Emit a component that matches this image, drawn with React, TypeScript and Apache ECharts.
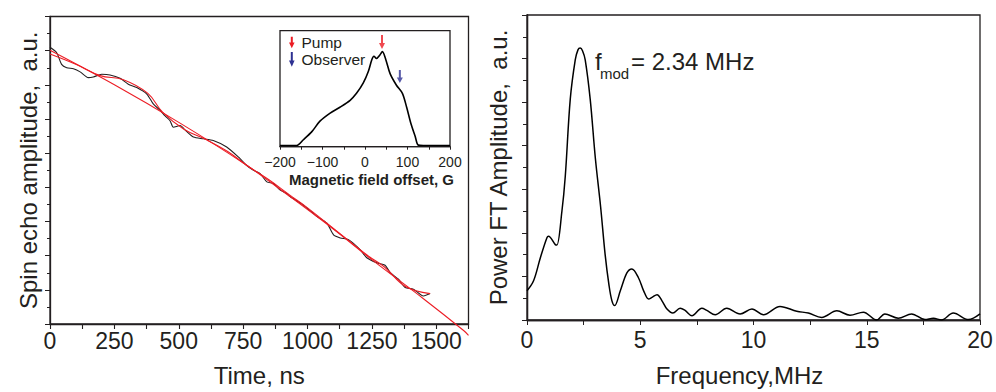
import React, { useEffect, useRef } from "react";
import * as echarts from "echarts";

// ---- Left panel: spin echo decay (Time ns, amplitude a.u.) ----
const echoTime = [0, 26, 45, 65, 91, 117, 149, 168, 201, 233, 272, 304, 337, 376, 401, 427, 447, 466, 479, 505, 528, 557, 596, 634, 686, 738, 764, 790, 816, 842, 868, 894, 920, 932, 984, 1036, 1075, 1101, 1127, 1159, 1204, 1230, 1269, 1301, 1321, 1353, 1379, 1411, 1450, 1476];
const echoAmp = [8.10, 7.94, 7.60, 7.50, 7.47, 7.38, 7.21, 7.23, 7.31, 7.29, 7.19, 7.02, 6.92, 6.73, 6.44, 6.26, 6.09, 5.95, 5.76, 5.81, 5.65, 5.47, 5.42, 5.37, 5.18, 4.84, 4.64, 4.50, 4.40, 4.16, 4.11, 3.92, 3.82, 3.73, 3.48, 3.15, 2.95, 2.61, 2.52, 2.47, 2.18, 1.94, 1.79, 1.72, 1.50, 1.31, 1.07, 1.02, 0.82, 0.89];

// smooth decay fit (extends past the data)
const fitTime = [0, 250, 505, 755, 932, 1100, 1257, 1450, 1606, 1625];
const fitAmp = [8.01, 7.0, 5.88, 4.69, 3.73, 2.78, 1.84, 0.74, -0.19, -0.33];

// modulated fit
const modTime = [0, 100, 195, 285, 380, 437, 520, 600, 690, 765, 850, 930, 1000, 1080, 1160, 1240, 1300, 1380, 1476];
const modAmp = [7.90, 7.60, 7.27, 7.15, 6.75, 6.20, 5.70, 5.42, 5.05, 4.64, 4.22, 3.78, 3.40, 2.92, 2.44, 1.97, 1.66, 1.10, 0.89];

const timeTicks = [0, 250, 500, 750, 1000, 1250, 1500];

// ---- Inset: EPR spectrum ----
const fieldOffset = [-200, -161, -145, -125, -106, -82, -59, -35, -20, -4, 8, 16, 21, 27, 35, 41, 49, 59, 74, 88, 98, 108, 118, 125, 137, 200];
const fieldSignal = [0.01, 0.01, 0.06, 0.13, 0.22, 0.29, 0.34, 0.40, 0.46, 0.55, 0.65, 0.75, 0.78, 0.76, 0.79, 0.82, 0.75, 0.63, 0.53, 0.46, 0.34, 0.20, 0.09, 0.015, 0.01, 0.01];
const pumpArrow = [40, 0.903];
const observerArrow = [82, 0.605];
const legendNames = ["Pump", "Observer"];

// ---- Right panel: power FT ----
const freq = [0, 0.29, 0.59, 0.88, 0.95, 1.25, 1.32, 1.54, 1.69, 1.91, 2.13, 2.25, 2.35, 2.45, 2.57, 2.79, 3.02, 3.25, 3.45, 3.62, 3.75, 3.87, 4.12, 4.41, 4.63, 4.92, 5.15, 5.37, 5.52, 5.74, 5.96, 6.18, 6.44, 6.76, 6.98, 7.28, 7.72, 7.94, 8.31, 8.82, 9.41, 9.93, 10.44, 11.17, 11.91, 12.42, 13.01, 13.68, 14.26, 14.85, 15.44, 15.8, 16.39, 16.98, 17.57, 17.94, 18.3, 18.82, 19.49, 20];
const power = [0.67, 0.90, 1.43, 1.89, 1.92, 1.73, 1.72, 2.49, 3.3, 5.07, 5.97, 6.2, 6.24, 6.18, 5.97, 5.07, 3.7, 2.6, 1.50, 0.8, 0.44, 0.33, 0.67, 1.08, 1.17, 0.97, 0.67, 0.48, 0.52, 0.58, 0.44, 0.25, 0.16, 0.27, 0.22, 0.10, 0.27, 0.22, 0.12, 0.27, 0.14, 0.25, 0.12, 0.31, 0.20, 0.16, 0.06, 0.21, 0.11, 0.18, 0.0, 0.14, 0.04, 0.14, 0.01, 0.04, 0.0, 0.16, 0.01, 0.14];

const FONT = '"Liberation Sans", Arial, Helvetica, sans-serif';
const INK = "#231f20";
const RED = "#ec1c24";
const BLUE = "#2e3192";
const ARROW = "path://M2,0 L4,0 L4,8 L6,8 L3,14 L0,8 L2,8 Z";

const zip = (a: number[], b: number[]) => a.map((v, i) => [v, b[i]]);

export default function App() {
  const ref = useRef<HTMLDivElement>(null);
  useEffect(() => {
    if (!ref.current) return;
    const chart = echarts.init(ref.current, undefined, { renderer: "svg" });
    const axisLine = { show: true, lineStyle: { color: INK, width: 1.3 } };
    const option: any = {
      animation: false,
      backgroundColor: "#fff",
      textStyle: { fontFamily: FONT, color: INK },
      grid: [
        { left: 50, top: 16.5, width: 418.5, height: 310.2, show: true, borderColor: INK, borderWidth: 1.3, backgroundColor: "transparent" },
        { left: 280, top: 30.7, width: 170, height: 116, show: true, borderColor: INK, borderWidth: 1.3, backgroundColor: "#fff", z: 5 },
        { left: 527, top: 15, width: 453, height: 307.7, show: true, borderColor: INK, borderWidth: 1.3 },
      ],
      xAxis: [
        {
          gridIndex: 0, type: "value", min: 0, max: 1625, interval: 125,
          axisLine, splitLine: { show: false },
          axisTick: { show: true, length: 5, lineStyle: { color: INK, width: 1.1 } },
          axisLabel: {
            fontSize: 23, color: INK, fontFamily: FONT, margin: 5,
            formatter: (v: number) => (timeTicks.indexOf(v) >= 0 ? String(v) : ""),
          },
          name: "Time, ns", nameLocation: "middle", nameGap: 39,
          nameTextStyle: { fontSize: 24, color: INK, fontFamily: FONT },
        },
        {
          gridIndex: 1, type: "value", min: -200, max: 200, interval: 100,
          axisLine, splitLine: { show: false },
          axisTick: { show: true, length: 3, lineStyle: { color: INK } },
          minorTick: { show: true, splitNumber: 2, length: 3, lineStyle: { color: INK } },
          axisLabel: { fontSize: 14, color: INK, fontFamily: FONT, margin: 8, formatter: (v: number) => (v < 0 ? "\u2212" + Math.abs(v) : String(v)) },
          name: "Magnetic field offset, G", nameLocation: "middle", nameGap: 25,
          nameTextStyle: { fontSize: 15, fontWeight: "bold", color: INK, fontFamily: FONT, padding: [0, 0, 0, 13] },
        },
        {
          gridIndex: 2, type: "value", min: 0, max: 20, interval: 5,
          axisLine, splitLine: { show: false },
          axisTick: { show: true, length: 4, lineStyle: { color: INK } },
          minorTick: { show: true, splitNumber: 2, length: 4, lineStyle: { color: INK } },
          axisLabel: { fontSize: 23, color: INK, fontFamily: FONT, margin: 8 },
          name: "Frequency,MHz", nameLocation: "middle", nameGap: 43,
          nameTextStyle: { fontSize: 24, color: INK, fontFamily: FONT, padding: [0, 28, 0, 0] },
        },
        {
          gridIndex: 2, type: "value", min: 0, max: 20, interval: 5, position: "top",
          axisLine, splitLine: { show: false },
          axisTick: { show: true, inside: true, length: 5, lineStyle: { color: INK } },
          minorTick: { show: true, splitNumber: 2, length: 5, lineStyle: { color: INK } },
          axisLabel: { show: false },
        },
      ],
      yAxis: [
        {
          gridIndex: 0, type: "value", min: 0, max: 9, interval: 1,
          axisLine, splitLine: { show: false },
          axisTick: { show: true, length: 5, lineStyle: { color: INK } },
          minorTick: { show: true, splitNumber: 2, length: 3, lineStyle: { color: INK } },
          axisLabel: { show: false },
          name: "Spin echo amplitude,  a.u.", nameLocation: "middle", nameGap: 10,
          nameTextStyle: { fontSize: 24, color: INK, fontFamily: FONT },
        },
        {
          gridIndex: 1, type: "value", min: 0, max: 1, interval: 0.05,
          axisLine, splitLine: { show: false },
          axisTick: { show: true, length: 3, lineStyle: { color: INK } },
          axisLabel: { show: false },
        },
        {
          gridIndex: 2, type: "value", min: 0, max: 7, interval: 1,
          axisLine, splitLine: { show: false },
          axisTick: { show: true, length: 5, lineStyle: { color: INK } },
          minorTick: { show: true, splitNumber: 2, length: 4, lineStyle: { color: INK } },
          axisLabel: { show: false },
          name: "Power FT Amplitude,  a.u.", nameLocation: "middle", nameGap: 17,
          nameTextStyle: { fontSize: 24, color: INK, fontFamily: FONT },
        },
        {
          gridIndex: 2, type: "value", min: 0, max: 7, interval: 1, position: "right",
          axisLine, splitLine: { show: false },
          axisTick: { show: true, inside: true, length: 4, lineStyle: { color: INK } },
          minorTick: { show: true, splitNumber: 2, length: 4, lineStyle: { color: INK } },
          axisLabel: { show: false },
        },
      ],
      series: [
        {
          type: "line", xAxisIndex: 0, yAxisIndex: 0, data: zip(echoTime, echoAmp),
          showSymbol: false, smooth: 0.25, lineStyle: { color: INK, width: 1.1 }, z: 3,
        },
        {
          type: "line", xAxisIndex: 0, yAxisIndex: 0, data: zip(fitTime, fitAmp),
          showSymbol: false, smooth: 0.4, clip: false, lineStyle: { color: RED, width: 1.1 }, z: 4,
        },
        {
          type: "line", xAxisIndex: 0, yAxisIndex: 0, data: zip(modTime, modAmp),
          showSymbol: false, smooth: 0.4, lineStyle: { color: RED, width: 1.1 }, z: 4,
        },
        {
          type: "line", xAxisIndex: 1, yAxisIndex: 1, data: zip(fieldOffset, fieldSignal),
          showSymbol: false, smooth: 0.3, lineStyle: { color: "#000", width: 1.6 }, z: 6,
        },
        {
          type: "scatter", xAxisIndex: 1, yAxisIndex: 1, symbol: ARROW, z: 7,
          data: [
            { value: pumpArrow, symbolSize: [6, 14], itemStyle: { color: RED } },
            { value: observerArrow, symbolSize: [6, 13], itemStyle: { color: BLUE } },
          ],
        },
        {
          type: "line", xAxisIndex: 2, yAxisIndex: 2, data: zip(freq, power),
          showSymbol: false, smooth: 0.35, lineStyle: { color: "#000", width: 1.5 }, z: 3,
        },
      ],
      graphic: [
        { type: "polygon", z: 100, shape: { points: [[290.8, 36.7], [292.8, 36.7], [292.8, 42.5], [294.6, 42.5], [291.8, 48.3], [289, 42.5], [290.8, 42.5]] }, style: { fill: RED } },
        { type: "polygon", z: 100, shape: { points: [[290.8, 52], [292.8, 52], [292.8, 60.5], [294.6, 60.5], [291.8, 66.7], [289, 60.5], [290.8, 60.5]] }, style: { fill: BLUE } },
        { type: "text", z: 100, style: { text: legendNames[0], x: 301.5, y: 42.5, fontSize: 15.5, fontFamily: FONT, fill: INK, verticalAlign: "middle" } },
        { type: "text", z: 100, style: { text: legendNames[1], x: 301.5, y: 59, fontSize: 15.5, fontFamily: FONT, fill: INK, verticalAlign: "middle" } },
        { type: "text", z: 100, style: { text: "f", x: 595, y: 61, fontSize: 24, fontFamily: FONT, fill: INK, verticalAlign: "middle" } },
        { type: "text", z: 100, style: { text: "mod", x: 600, y: 73, fontSize: 15, fontFamily: FONT, fill: INK, verticalAlign: "middle" } },
        { type: "text", z: 100, style: { text: "= 2.34 MHz", x: 631, y: 61.5, fontSize: 24, fontFamily: FONT, fill: INK, verticalAlign: "middle" } },
      ],
    };
    chart.setOption(option);
    return () => chart.dispose();
  }, []);
  return <div ref={ref} style={{ position: "fixed", left: 0, top: 0, width: 996, height: 392 }} />;
}
